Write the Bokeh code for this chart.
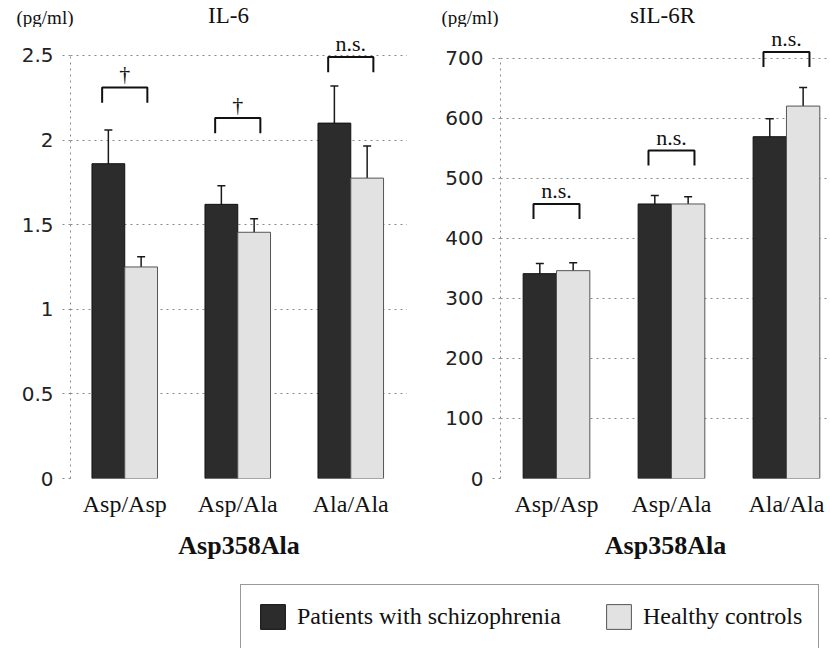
import numpy as np
from bokeh.plotting import figure
from bokeh.models import (ColumnDataSource, Range1d, Whisker, TeeHead, FixedTicker,
                          NumeralTickFormatter, Legend, LegendItem)
from bokeh.layouts import column, row
from bokeh.embed import file_html
from bokeh.resources import INLINE
from bokeh.core.properties import value

# ---------------- data ----------------
categories = ["Asp/Asp", "Asp/Ala", "Ala/Ala"]

il6_patients = [1.86, 1.62, 2.10]
il6_patients_err = [0.20, 0.11, 0.22]
il6_controls = [1.25, 1.455, 1.775]
il6_controls_err = [0.06, 0.08, 0.19]
il6_sig = ["†", "†", "n.s."]
il6_bracket = [2.31, 2.13, 2.49]
il6_ticks = [0, 0.5, 1, 1.5, 2, 2.5]

sil6r_patients = [341, 457, 569]
sil6r_patients_err = [17, 14, 30]
sil6r_controls = [346, 457, 620]
sil6r_controls_err = [13, 12, 31]
sil6r_sig = ["n.s.", "n.s.", "n.s."]
sil6r_bracket = [457, 546, 710]
sil6r_ticks = [0, 100, 200, 300, 400, 500, 600, 700]

series_names = ["Patients with schizophrenia", "Healthy controls"]
chart_titles = ["IL-6", "sIL-6R"]
x_title = "Asp358Ala"
unit = "(pg/ml)"

SERIF = "Liberation Serif"
SANS = "DejaVu Sans"
DARK = "#2c2c2c"
LIGHT = "#e2e2e2"
GRID = "#8a8a8a"
INK = "#111111"
BW = 0.29


def sources(vp, ep, vc, ec):
    x = np.arange(len(categories))
    vp, ep, vc, ec = map(np.array, (vp, ep, vc, ec))
    sp = ColumnDataSource(dict(x=x - BW / 2, top=vp, upper=vp + ep, lower=vp - ep))
    sc = ColumnDataSource(dict(x=x + BW / 2, top=vc, upper=vc + ec, lower=vc - ec))
    return sp, sc


def make_chart(sp, sc, sig, bracket, ticks, ymax, leg, sig_offset,
               xstart, xend, width, border_left):
    p = figure(width=width, height=537, output_backend="svg", toolbar_location=None,
               x_range=Range1d(xstart, xend), y_range=Range1d(0, ymax),
               min_border_left=border_left, min_border_right=0,
               min_border_top=0, min_border_bottom=86)
    p.outline_line_color = None
    p.xgrid.grid_line_color = None
    p.ygrid.ticker = FixedTicker(ticks=ticks)
    p.ygrid.grid_line_color = GRID
    p.ygrid.grid_line_dash = "dotted"
    p.ygrid.grid_line_width = 1

    p.vbar(x="x", top="top", width=BW, source=sp, fill_color=DARK, line_color="#111111", line_width=1)
    p.vbar(x="x", top="top", width=BW, source=sc, fill_color=LIGHT, line_color="#555555", line_width=1)
    for s in (sp, sc):
        w = Whisker(source=s, base="x", upper="upper", lower="lower", dimension="height",
                    line_color="#1a1a1a", line_width=1.5,
                    upper_head=TeeHead(size=8, line_color="#1a1a1a", line_width=1.5),
                    lower_head=TeeHead(size=8, line_color="#1a1a1a", line_width=1.5))
        p.add_layout(w)

    x = np.arange(len(categories))
    hw = 0.2
    xs = [[c - hw, c - hw, c + hw, c + hw] for c in x]
    ys = [[b - leg, b, b, b - leg] for b in bracket]
    p.multi_line(xs, ys, line_color=INK, line_width=2)
    p.text(x=x, y=bracket, text=sig, text_font=value(SERIF), text_font_size="22px",
           text_align="center", text_baseline="middle", y_offset=sig_offset, text_color=INK)

    ya = p.yaxis[0]
    ya.ticker = FixedTicker(ticks=ticks)
    ya.formatter = NumeralTickFormatter(format="0.[0]")
    ya.bounds = (0, ticks[-1])
    ya.axis_line_color = GRID
    ya.axis_line_dash = "dotted"
    ya.major_tick_out = 8
    ya.major_tick_in = 0
    ya.major_tick_line_color = GRID
    ya.major_tick_line_dash = "dotted"
    ya.minor_tick_line_color = None
    ya.major_label_text_font = SANS
    ya.major_label_text_font_size = "20px"
    ya.major_label_text_color = "#222222"
    ya.major_label_standoff = 9

    xa = p.xaxis[0]
    xa.ticker = FixedTicker(ticks=list(range(len(categories))))
    xa.major_label_overrides = {i: c for i, c in enumerate(categories)}
    xa.axis_line_color = None
    xa.major_tick_line_color = None
    xa.minor_tick_line_color = None
    xa.major_label_text_font = SERIF
    xa.major_label_text_font_size = "24px"
    xa.major_label_text_color = INK
    xa.major_label_standoff = 6
    xa.axis_label = x_title
    xa.axis_label_text_font = SERIF
    xa.axis_label_text_font_size = "26px"
    xa.axis_label_text_font_style = "bold"
    xa.axis_label_text_color = INK
    xa.axis_label_standoff = 11
    return p


sp1, sc1 = sources(il6_patients, il6_patients_err, il6_controls, il6_controls_err)
sp2, sc2 = sources(sil6r_patients, sil6r_patients_err, sil6r_controls, sil6r_controls_err)

p1 = make_chart(sp1, sc1, il6_sig, il6_bracket, il6_ticks, 2.665, 0.09, -14, -0.48, 2.502, 407, 70)
p2 = make_chart(sp2, sc2, sil6r_sig, sil6r_bracket, sil6r_ticks, 750.8, 25, -13.5, -0.487, 2.383, 423, 93)

# header strip with units and chart titles (pixel space, y measured upward)
ph = figure(width=830, height=27, output_backend="svg", toolbar_location=None,
            x_axis_location=None, y_axis_location=None, min_border=0,
            x_range=Range1d(0, 830), y_range=Range1d(0, 27))
ph.outline_line_color = None
ph.grid.visible = False
ph.text(x=[73, 498], y=[10.5, 10.5], text=[unit, unit], text_font=value(SERIF), text_font_size="19px",
        text_align="right", text_baseline="middle", text_color=INK)
ph.text(x=[228, 662], y=[12, 12], text=chart_titles, text_font=value(SERIF), text_font_size="23px",
        text_align="center", text_baseline="middle", text_color=INK)

# legend strip (proxy renderers lie outside its visible range)
pl = figure(width=830, height=84, output_backend="svg", toolbar_location=None,
            x_axis_location=None, y_axis_location=None, min_border=0,
            x_range=Range1d(100, 101), y_range=Range1d(100, 101))
pl.outline_line_color = None
pl.grid.visible = False
r1 = pl.vbar(x="x", top="top", width=BW, source=sp1, fill_color=DARK, line_color="#111111")
r2 = pl.vbar(x="x", top="top", width=BW, source=sc1, fill_color=LIGHT, line_color="#555555")
legend = Legend(items=[LegendItem(label=series_names[0], renderers=[r1]),
                       LegendItem(label=series_names[1], renderers=[r2])],
                orientation="horizontal", location=(240, -1),
                glyph_width=31, glyph_height=31, label_height=31, label_standoff=9,
                spacing=42, padding=16, margin=0,
                label_text_font=SERIF, label_text_font_size="24px", label_text_color=INK,
                border_line_color="#333333", border_line_width=1.2,
                background_fill_color="white", background_fill_alpha=1)
pl.add_layout(legend, "center")

layout = column(ph, row(p1, p2), pl)
open("out.html", "w").write(file_html(layout, INLINE))
